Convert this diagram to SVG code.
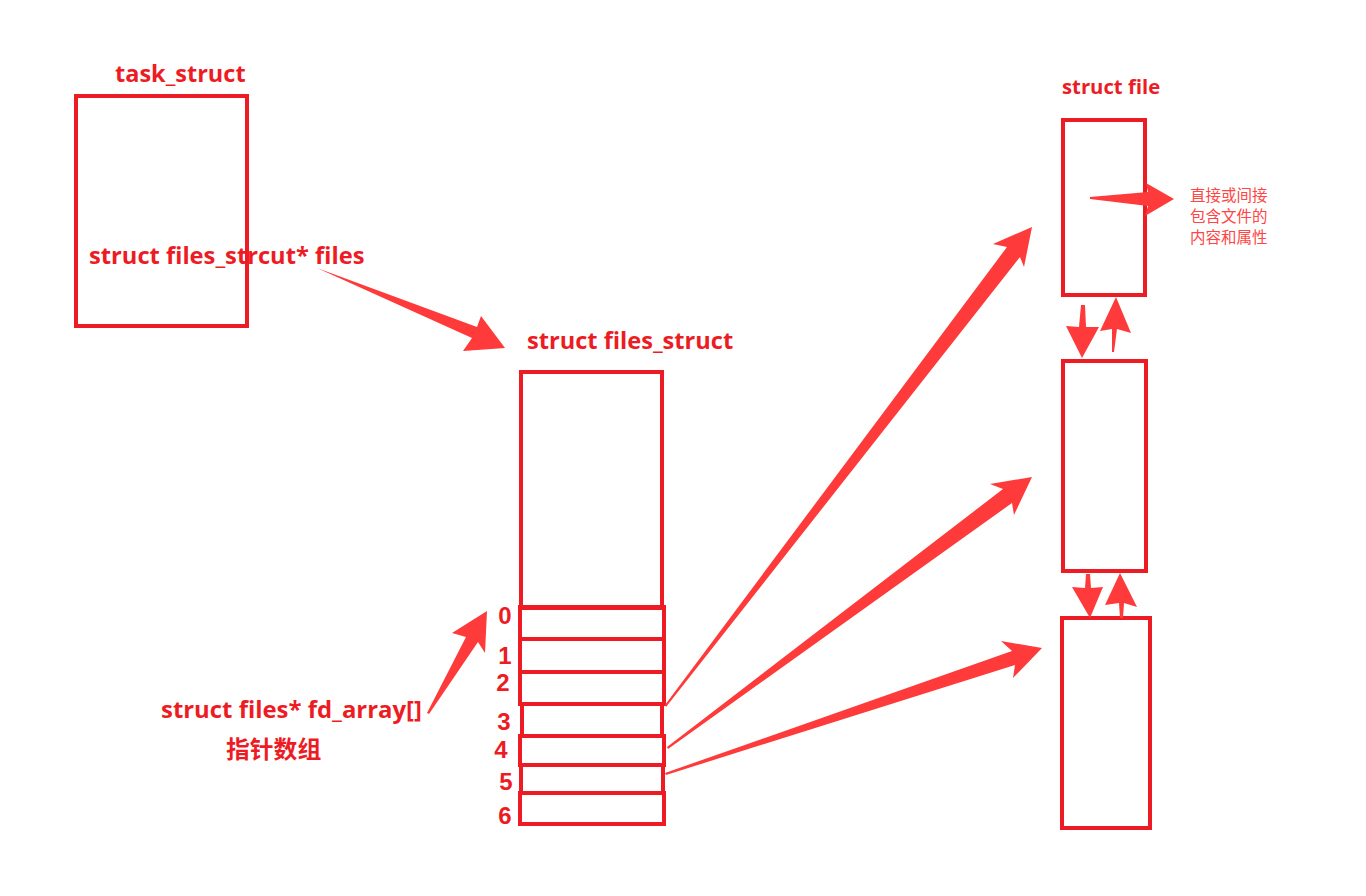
<svg xmlns="http://www.w3.org/2000/svg" width="1366" height="896" viewBox="0 0 1366 896">
<style>
.box{fill:none;stroke:#ed1c24;stroke-width:4}
.lbl{font-family:"Open Sans","Noto Sans CJK SC",sans-serif;font-weight:bold;fill:#ed1c24}
.num{font-family:"Liberation Sans",sans-serif;font-weight:bold;fill:#ed1c24;font-size:24px;text-anchor:middle}
.note{font-family:"Noto Sans CJK SC",sans-serif;fill:#ff4545;font-size:15.5px}
.arr{fill:#ff3a3a;stroke:none}
</style>
<rect width="1366" height="896" fill="#ffffff"/>
<g id="task_struct">
<text class="lbl" x="115" y="82" font-size="23.5">task_struct</text>
<rect class="box" x="76" y="96" width="171" height="230"/>
<text class="lbl" x="89" y="264" font-size="23.7">struct files_strcut* files</text>
</g>
<g id="files_struct">
<text class="lbl" x="527" y="349" font-size="23.6">struct files_struct</text>
<rect class="box" x="521" y="372" width="141" height="236"/>
</g>
<g id="fd_array">
<rect class="box" x="520" y="607" width="144" height="32"/>
<rect class="box" x="520" y="639" width="144" height="33"/>
<rect class="box" x="520" y="672" width="144" height="32"/>
<rect class="box" x="522" y="704" width="140" height="32"/>
<rect class="box" x="520" y="736" width="144" height="29"/>
<rect class="box" x="521" y="765" width="142" height="28"/>
<rect class="box" x="520" y="793" width="144" height="31"/>
<text class="num" x="505" y="624">0</text>
<text class="num" x="505" y="664">1</text>
<text class="num" x="503" y="691">2</text>
<text class="num" x="504" y="730">3</text>
<text class="num" x="501" y="758">4</text>
<text class="num" x="506" y="790">5</text>
<text class="num" x="505" y="824">6</text>
<text class="lbl" x="161" y="718" font-size="23.9">struct files* fd_array[]</text>
<text class="lbl" x="226" y="758" font-size="23.8">指针数组</text>
</g>
<g id="struct_file_1">
<text class="lbl" x="1062" y="94" font-size="20.3">struct file</text>
<rect class="box" x="1063" y="120" width="82" height="175"/>
<text class="note" x="1190" y="201">直接或间接</text>
<text class="note" x="1190" y="222">包含文件的</text>
<text class="note" x="1190" y="243">内容和属性</text>
</g>
<g id="struct_file_2">
<rect class="box" x="1063" y="361" width="83" height="210"/>
</g>
<g id="struct_file_3">
<rect class="box" x="1062" y="618" width="88" height="210"/>
</g>
<g id="connectors">
<polygon class="arr" points="317,268 477,327 481,316 505,348 463,351 472,338"/>
<polygon class="arr" points="665,705 1007,247 993,244 1032,227 1024,267 1020,257 666,707"/>
<polygon class="arr" points="667,747 1003,489 990,484 1032,477 1014,515 1012,503 668,749"/>
<polygon class="arr" points="665,773 1012,651 1001,641 1042,648 1013,678 1015,665 666,775"/>
<polygon class="arr" points="427,713 466,637 452,633 487,611 485,653 478,642 429,714"/>
<polygon class="arr" points="1090,197 1148,192 1146,183 1174,199 1145,216 1148,206 1090,199"/>
<polygon class="arr" points="1081,305 1085,305 1086,327 1099,327 1082,358 1066,326 1079,327"/>
<polygon class="arr" points="1116,297 1131,333 1117,329 1114,352 1112,352 1112,329 1100,331"/>
<polygon class="arr" points="1086,574 1090,574 1091,588 1103,587 1090,618 1072,587 1085,588"/>
<polygon class="arr" points="1120,573 1137,607 1124,603 1123,618 1120,618 1119,603 1105,605"/>
</g>
</svg>
